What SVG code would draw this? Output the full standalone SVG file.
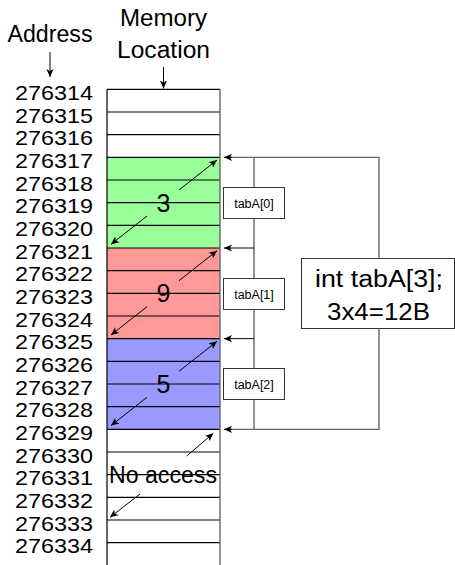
<svg xmlns="http://www.w3.org/2000/svg" width="455" height="565" viewBox="0 0 455 565">
<defs>
<marker id="ah" viewBox="0 0 10 10" refX="10" refY="5" markerWidth="8" markerHeight="8" markerUnits="userSpaceOnUse" orient="auto">
<path d="M0,0.5 L10,5 L0,9.5 L2.5,5 Z" fill="#000"/>
</marker>
</defs>
<style>
text{font-family:"Liberation Sans",Arial,sans-serif;fill:#000}
.big{font-size:23px}
.num{font-size:25px;text-anchor:middle}
.addr{font-size:21px;text-anchor:end}
.mid{text-anchor:middle}
.small{font-size:12.5px;text-anchor:middle}
.row{stroke:#000;stroke-width:1.2}
.conn{stroke:#000;stroke-width:1;fill:none}
.gray{stroke:#666;stroke-width:1.4;fill:none}
.box{fill:#fff;stroke:#333;stroke-width:1}
</style>
<rect width="455" height="565" fill="#fff"/>
<g id="headers">
<text class="big mid" x="50" y="42.3" textLength="85" lengthAdjust="spacingAndGlyphs">Address</text>
<text class="big mid" x="163.5" y="26" textLength="87" lengthAdjust="spacingAndGlyphs">Memory</text>
<text class="big mid" x="163.5" y="57.7" textLength="93" lengthAdjust="spacingAndGlyphs">Location</text>
</g>
<g id="addresses">
<text class="addr" x="93" y="100" textLength="78" lengthAdjust="spacingAndGlyphs">276314</text>
<text class="addr" x="93" y="122.7" textLength="78" lengthAdjust="spacingAndGlyphs">276315</text>
<text class="addr" x="93" y="145.3" textLength="78" lengthAdjust="spacingAndGlyphs">276316</text>
<text class="addr" x="93" y="168" textLength="78" lengthAdjust="spacingAndGlyphs">276317</text>
<text class="addr" x="93" y="190.7" textLength="78" lengthAdjust="spacingAndGlyphs">276318</text>
<text class="addr" x="93" y="213.3" textLength="78" lengthAdjust="spacingAndGlyphs">276319</text>
<text class="addr" x="93" y="236" textLength="78" lengthAdjust="spacingAndGlyphs">276320</text>
<text class="addr" x="93" y="258.7" textLength="78" lengthAdjust="spacingAndGlyphs">276321</text>
<text class="addr" x="93" y="281.3" textLength="78" lengthAdjust="spacingAndGlyphs">276322</text>
<text class="addr" x="93" y="304" textLength="78" lengthAdjust="spacingAndGlyphs">276323</text>
<text class="addr" x="93" y="326.7" textLength="78" lengthAdjust="spacingAndGlyphs">276324</text>
<text class="addr" x="93" y="349.3" textLength="78" lengthAdjust="spacingAndGlyphs">276325</text>
<text class="addr" x="93" y="372" textLength="78" lengthAdjust="spacingAndGlyphs">276326</text>
<text class="addr" x="93" y="394.7" textLength="78" lengthAdjust="spacingAndGlyphs">276327</text>
<text class="addr" x="93" y="417.3" textLength="78" lengthAdjust="spacingAndGlyphs">276328</text>
<text class="addr" x="93" y="440" textLength="78" lengthAdjust="spacingAndGlyphs">276329</text>
<text class="addr" x="93" y="462.7" textLength="78" lengthAdjust="spacingAndGlyphs">276330</text>
<text class="addr" x="93" y="485.3" textLength="78" lengthAdjust="spacingAndGlyphs">276331</text>
<text class="addr" x="93" y="508" textLength="78" lengthAdjust="spacingAndGlyphs">276332</text>
<text class="addr" x="93" y="530.7" textLength="78" lengthAdjust="spacingAndGlyphs">276333</text>
<text class="addr" x="93" y="553.3" textLength="78" lengthAdjust="spacingAndGlyphs">276334</text>
</g>
<g id="memory">
<rect x="107" y="157.33" width="113" height="90.67" fill="#99ff99"/>
<rect x="107" y="248" width="113" height="90.67" fill="#ff9999"/>
<rect x="107" y="338.67" width="113" height="90.67" fill="#9999ff"/>
<g class="row">
<line x1="107" y1="89.33" x2="220" y2="89.33"/>
<line x1="107" y1="112" x2="220" y2="112"/>
<line x1="107" y1="134.67" x2="220" y2="134.67"/>
<line x1="107" y1="157.33" x2="220" y2="157.33"/>
<line x1="107" y1="180" x2="220" y2="180"/>
<line x1="107" y1="202.67" x2="220" y2="202.67"/>
<line x1="107" y1="225.33" x2="220" y2="225.33"/>
<line x1="107" y1="248" x2="220" y2="248"/>
<line x1="107" y1="270.67" x2="220" y2="270.67"/>
<line x1="107" y1="293.33" x2="220" y2="293.33"/>
<line x1="107" y1="316" x2="220" y2="316"/>
<line x1="107" y1="338.67" x2="220" y2="338.67"/>
<line x1="107" y1="361.33" x2="220" y2="361.33"/>
<line x1="107" y1="384" x2="220" y2="384"/>
<line x1="107" y1="406.67" x2="220" y2="406.67"/>
<line x1="107" y1="429.33" x2="220" y2="429.33"/>
<line x1="107" y1="452" x2="220" y2="452"/>
<line x1="107" y1="474.67" x2="220" y2="474.67"/>
<line x1="107" y1="497.33" x2="220" y2="497.33"/>
<line x1="107" y1="520" x2="220" y2="520"/>
<line x1="107" y1="542.67" x2="220" y2="542.67"/>
<line x1="107" y1="89.33" x2="107" y2="565"/>
</g>
<line x1="220" y1="89.33" x2="220" y2="565" class="gray"/>
</g>
<g id="sizes">
<text class="num" x="163.5" y="211.7">3</text>
<text class="num" x="163.5" y="302.4">9</text>
<text class="num" x="163.5" y="393">5</text>
<text class="big mid" x="163" y="483.3" textLength="108" lengthAdjust="spacingAndGlyphs">No access</text>
</g>
<g id="tabA0"><rect class="box" x="223.5" y="187.5" width="61" height="31"/><text class="small" x="254" y="207.5">tabA[0]</text></g>
<g id="tabA1"><rect class="box" x="223.5" y="278.5" width="61" height="31"/><text class="small" x="254" y="298.5">tabA[1]</text></g>
<g id="tabA2"><rect class="box" x="223.5" y="368.5" width="61" height="31"/><text class="small" x="254" y="388.5">tabA[2]</text></g>
<g id="decl"><rect class="box" x="301.5" y="258.5" width="153" height="70"/>
<text class="big mid" x="379" y="287" textLength="128" lengthAdjust="spacingAndGlyphs">int tabA[3];</text>
<text class="big mid" x="378.5" y="320" textLength="103" lengthAdjust="spacingAndGlyphs">3x4=12B</text></g>
<g id="connectors">
<line class="conn" x1="50" y1="52" x2="50" y2="77" marker-end="url(#ah)"/>
<line class="conn" x1="163.5" y1="67" x2="163.5" y2="88.5" marker-end="url(#ah)"/>
<line class="conn" x1="179" y1="190" x2="217" y2="160" marker-end="url(#ah)"/>
<line class="conn" x1="147" y1="216" x2="111" y2="244.3" marker-end="url(#ah)"/>
<line class="conn" x1="179" y1="280.7" x2="217" y2="250.7" marker-end="url(#ah)"/>
<line class="conn" x1="147" y1="306.7" x2="111" y2="335" marker-end="url(#ah)"/>
<line class="conn" x1="179" y1="371.3" x2="217" y2="341.3" marker-end="url(#ah)"/>
<line class="conn" x1="147" y1="397.3" x2="111" y2="425.6" marker-end="url(#ah)"/>
<line class="conn" x1="186.7" y1="456" x2="213.3" y2="433.3" marker-end="url(#ah)"/>
<line class="conn" x1="140" y1="494" x2="110" y2="517.3" marker-end="url(#ah)"/>
<polyline class="gray" points="379,258.5 379,157.33 227,157.33"/>
<line class="conn" x1="232" y1="157.33" x2="224" y2="157.33" marker-end="url(#ah)"/>
<polyline class="gray" points="379,328.5 379,429.33 227,429.33"/>
<line class="conn" x1="232" y1="429.33" x2="224" y2="429.33" marker-end="url(#ah)"/>
<line class="gray" x1="254" y1="157.33" x2="254" y2="187.5"/>
<line class="gray" x1="254" y1="218.5" x2="254" y2="278.5"/>
<line class="gray" x1="254" y1="309.5" x2="254" y2="368.5"/>
<line class="gray" x1="254" y1="399.5" x2="254" y2="429.33"/>
<line class="conn" x1="254" y1="248" x2="224" y2="248" marker-end="url(#ah)"/>
<line class="conn" x1="254" y1="338.67" x2="224" y2="338.67" marker-end="url(#ah)"/>
</g>
</svg>
